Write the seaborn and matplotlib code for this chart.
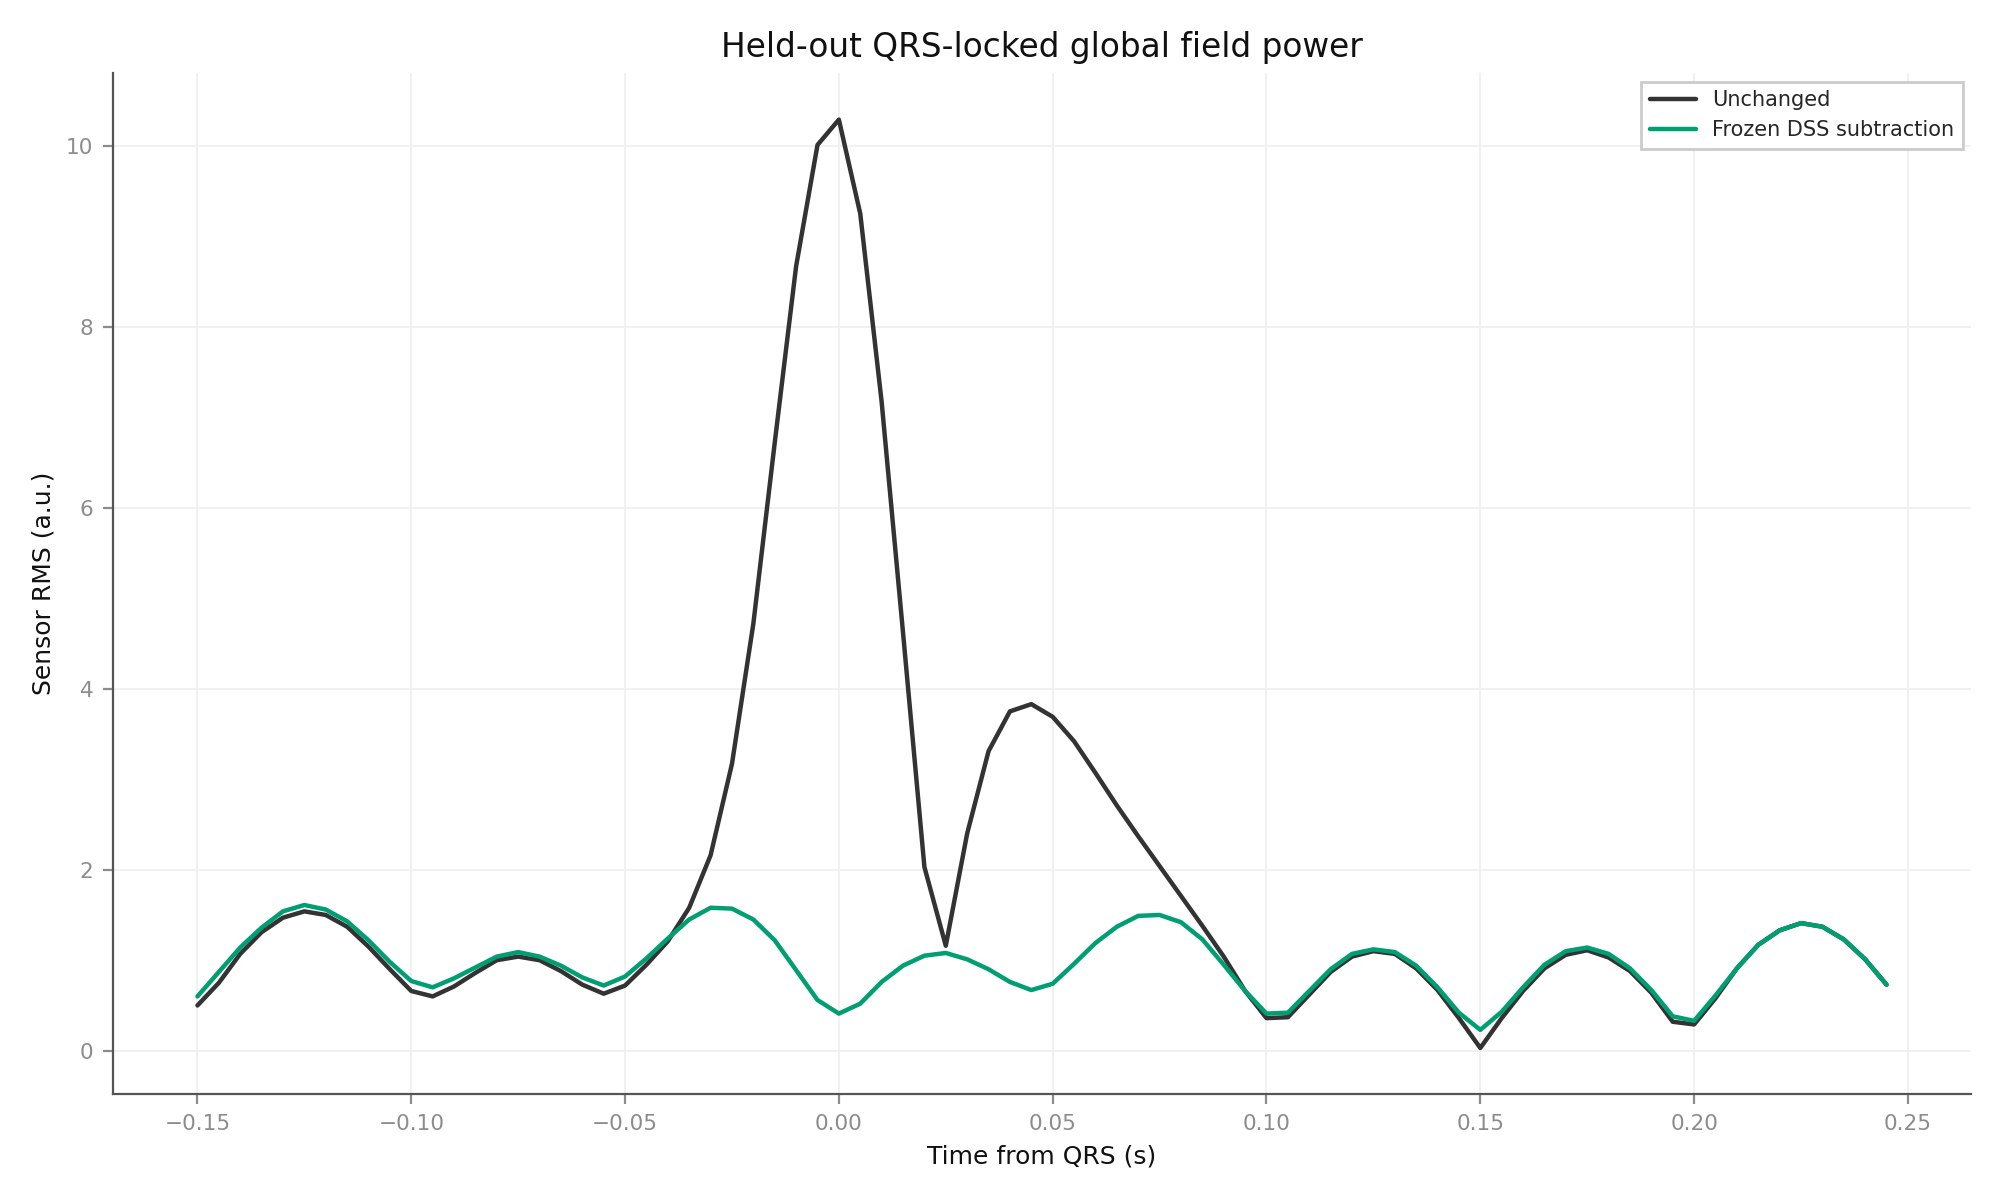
import numpy as np
import pandas as pd
import matplotlib
matplotlib.use("Agg")
import matplotlib.pyplot as plt
import seaborn as sns

# sample times (s) relative to QRS, 5 ms grid
times = np.round(np.arange(-150, 250, 5) / 1000.0, 3)

unchanged = [
    0.50, 0.75, 1.07, 1.31, 1.47, 1.54, 1.50, 1.37, 1.15, 0.90,
    0.66, 0.60, 0.71, 0.86, 1.00, 1.04, 1.00, 0.88, 0.73, 0.63,
    0.72, 0.95, 1.21, 1.58, 2.16, 3.17, 4.72, 6.72, 8.67, 10.01,
    10.29, 9.25, 7.17, 4.62, 2.03, 1.16, 2.40, 3.31, 3.75, 3.83,
    3.69, 3.42, 3.07, 2.71, 2.37, 2.04, 1.71, 1.38, 1.04, 0.66,
    0.36, 0.37, 0.62, 0.87, 1.04, 1.10, 1.07, 0.91, 0.67, 0.36,
    0.03, 0.36, 0.66, 0.91, 1.06, 1.11, 1.03, 0.88, 0.64, 0.32,
    0.29, 0.58, 0.91, 1.17, 1.33, 1.41, 1.37, 1.23, 1.01, 0.73,
]

frozen_dss = [
    0.60, 0.87, 1.14, 1.36, 1.54, 1.61, 1.56, 1.43, 1.22, 0.98,
    0.77, 0.70, 0.80, 0.92, 1.04, 1.09, 1.04, 0.94, 0.81, 0.72,
    0.82, 1.02, 1.24, 1.45, 1.58, 1.57, 1.45, 1.22, 0.89, 0.56,
    0.41, 0.52, 0.76, 0.94, 1.05, 1.08, 1.01, 0.90, 0.76, 0.67,
    0.74, 0.96, 1.19, 1.37, 1.49, 1.50, 1.42, 1.23, 0.95, 0.66,
    0.41, 0.42, 0.66, 0.90, 1.07, 1.12, 1.09, 0.94, 0.70, 0.42,
    0.23, 0.43, 0.70, 0.95, 1.10, 1.14, 1.07, 0.91, 0.67, 0.38,
    0.33, 0.61, 0.91, 1.17, 1.33, 1.41, 1.37, 1.23, 1.01, 0.73,
]

series_names = ["Unchanged", "Frozen DSS subtraction"]
series_colors = ["#333333", "#009E73"]

df = pd.DataFrame({
    "time": np.concatenate([times, times]),
    "rms": unchanged + frozen_dss,
    "condition": [series_names[0]] * len(times) + [series_names[1]] * len(times),
})

sns.set_theme(style="whitegrid")
plt.rcParams["font.family"] = ["DejaVu Sans"]

fig, ax = plt.subplots(figsize=(10, 6), dpi=200)
fig.subplots_adjust(left=0.0565, right=0.9855, top=0.939, bottom=0.088)

sns.lineplot(data=df, x="time", y="rms", hue="condition",
             palette=dict(zip(series_names, series_colors)),
             linewidth=1.6, ax=ax)

ax.set_title("Held-out QRS-locked global field power", fontsize=11.8, color="#111111")
ax.set_xlabel("Time from QRS (s)", fontsize=9, color="#111111")
ax.set_ylabel("Sensor RMS (a.u.)", fontsize=9, color="#111111")

ax.set_xticks([-0.15, -0.10, -0.05, 0.0, 0.05, 0.10, 0.15, 0.20, 0.25])
ax.set_yticks([0, 2, 4, 6, 8, 10])
ax.tick_params(axis="both", labelsize=7.8, labelcolor="#8c8c8c",
               color="#8c8c8c", length=3.5, width=0.8, bottom=True, left=True)

ax.grid(True, color="#efefef", linewidth=0.6)
ax.set_facecolor("white")
sns.despine(ax=ax)
for side in ["left", "bottom"]:
    ax.spines[side].set_color("#555555")
    ax.spines[side].set_linewidth(0.8)

leg = ax.legend(loc="upper right", fontsize=7.5, frameon=True, fancybox=False,
                framealpha=1, borderaxespad=0.4, handlelength=2.2)
leg.get_frame().set_edgecolor("#cccccc")
leg.get_frame().set_linewidth(1.0)
for line in leg.get_lines():
    line.set_linewidth(1.6)

plt.savefig("out.png", dpi=200)
